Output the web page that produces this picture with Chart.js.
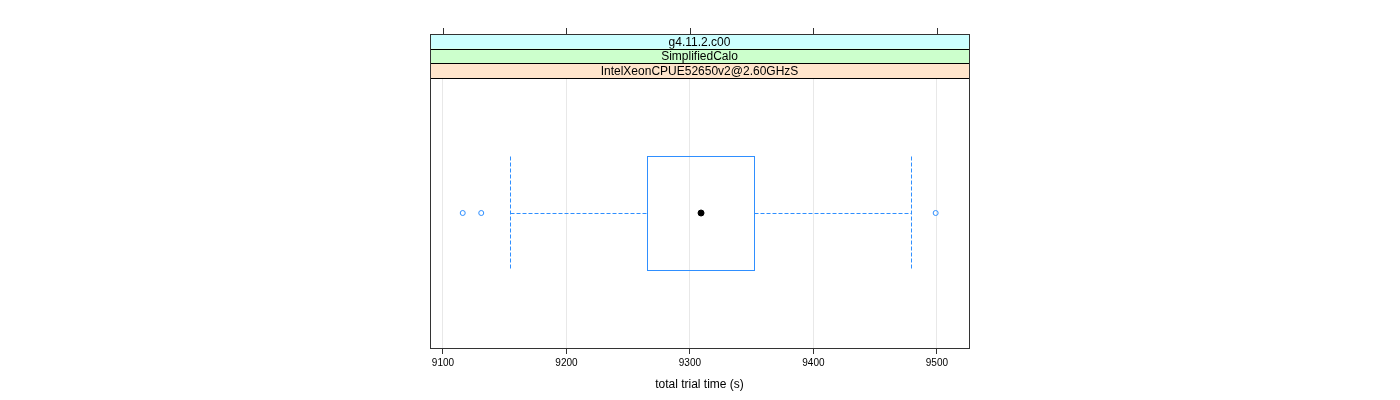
<!DOCTYPE html>
<html>
<head>
<meta charset="utf-8">
<script src="https://cdn.jsdelivr.net/npm/chart.js@4"></script>
<style>
    html, body { margin: 0; padding: 0; background: #fff; }
    canvas { display: block; }
</style>
</head>
<body>
<canvas id="chart" width="1400" height="400"></canvas>
<script>
// values
const xTicks = [9100, 9200, 9300, 9400, 9500];
const stripLabels = ['g4.11.2.c00', 'SimplifiedCalo', 'IntelXeonCPUE52650v2@2.60GHzS'];
const boxStats = [9265, 9309, 9352];   // q1, median, q3
const whiskers = [9154, 9479];         // lower, upper
const outliers = [9116, 9131, 9499];

const BLUE = '#2f8fff';
const crisp = v => Math.round(v) + 0.5;

Chart.defaults.font.family = '"Liberation Sans", Arial, sans-serif';
Chart.defaults.color = '#000';

const boxPlugin = {
    id: 'boxPlugin',
    beforeDatasetsDraw(chart) {
        const ctx = chart.ctx;
        const x = chart.scales.x;
        const y = chart.scales.y;
        const yc = crisp(y.getPixelForValue(1));
        const yt = crisp(y.getPixelForValue(1.21));
        const yb = crisp(y.getPixelForValue(0.79));
        const q1 = crisp(x.getPixelForValue(boxStats[0]));
        const q3 = crisp(x.getPixelForValue(boxStats[2]));
        const lo = crisp(x.getPixelForValue(whiskers[0]));
        const hi = crisp(x.getPixelForValue(whiskers[1]));

        ctx.save();
        ctx.lineWidth = 1;
        ctx.strokeStyle = BLUE;
        ctx.setLineDash([4, 2]);
        ctx.beginPath();
        ctx.moveTo(lo, yc); ctx.lineTo(q1, yc);
        ctx.moveTo(q3, yc); ctx.lineTo(hi, yc);
        ctx.stroke();
        ctx.beginPath();
        ctx.moveTo(lo, yt); ctx.lineTo(lo, yb);
        ctx.moveTo(hi, yt); ctx.lineTo(hi, yb);
        ctx.stroke();

        ctx.setLineDash([]);
        ctx.strokeRect(q1, yt, q3 - q1, yb - yt);
        ctx.restore();
    },
    afterDraw(chart) {
        const ctx = chart.ctx;
        const area = chart.chartArea;
        const x = chart.scales.x;
        const stripColors = ['#ccffff', '#ccffcc', '#ffe5cc'];
        const stripTop = 34;
        const h = (area.top - stripTop) / stripLabels.length;

        ctx.save();
        ctx.lineWidth = 1;
        stripLabels.forEach((label, i) => {
            const top = stripTop + i * h;
            ctx.fillStyle = stripColors[i];
            ctx.fillRect(area.left, top, area.right - area.left, h);
            ctx.strokeStyle = '#000';
            ctx.strokeRect(crisp(area.left), crisp(top), Math.round(area.right - area.left), Math.round(h));
            ctx.fillStyle = '#000';
            ctx.font = '12px "Liberation Sans", Arial, sans-serif';
            ctx.textAlign = 'center';
            ctx.textBaseline = 'middle';
            ctx.fillText(label, (area.left + area.right) / 2, top + h / 2 + 1);
        });

        // panel border
        ctx.strokeStyle = '#333';
        ctx.strokeRect(crisp(area.left), crisp(stripTop), Math.round(area.right - area.left), Math.round(area.bottom - stripTop));

        // top tick marks
        ctx.beginPath();
        x.ticks.forEach(t => {
            const px = crisp(x.getPixelForValue(t.value));
            ctx.moveTo(px, stripTop);
            ctx.lineTo(px, stripTop - 6);
        });
        ctx.stroke();
        ctx.restore();
    }
};

new Chart(document.getElementById('chart'), {
    type: 'scatter',
    data: {
        datasets: [
            {
                label: 'outliers',
                data: outliers.map(v => ({ x: v, y: 1 })),
                pointStyle: 'circle',
                pointRadius: 2.5,
                borderColor: BLUE,
                backgroundColor: 'rgba(0,0,0,0)',
                borderWidth: 1
            },
            {
                label: 'median',
                data: [{ x: boxStats[1], y: 1 }],
                pointRadius: 3,
                borderColor: '#000',
                backgroundColor: '#000',
                borderWidth: 1
            }
        ]
    },
    options: {
        responsive: false,
        animation: false,
        layout: { padding: { left: 430, right: 431, top: 78, bottom: 0 } },
        plugins: {
            legend: { display: false },
            tooltip: { enabled: false }
        },
        scales: {
            x: {
                type: 'linear',
                min: 9089.5,
                max: 9526,
                afterBuildTicks: scale => {
                    scale.ticks = xTicks.map(v => ({ value: v }));
                },
                afterFit: scale => { scale.height = 52; },
                grid: {
                    color: '#e8e8e8',
                    tickColor: '#333',
                    tickLength: 6,
                    drawOnChartArea: true
                },
                border: { display: false },
                ticks: {
                    font: { size: 10 },
                    color: '#000',
                    padding: 3,
                    maxRotation: 0,
                    callback: v => String(v)
                },
                title: {
                    display: true,
                    text: 'total trial time (s)',
                    font: { size: 12 },
                    color: '#000',
                    padding: { top: 0, bottom: 8 }
                }
            },
            y: {
                display: false,
                min: 0.5,
                max: 1.5
            }
        }
    },
    plugins: [boxPlugin]
});
</script>
</body>
</html>
